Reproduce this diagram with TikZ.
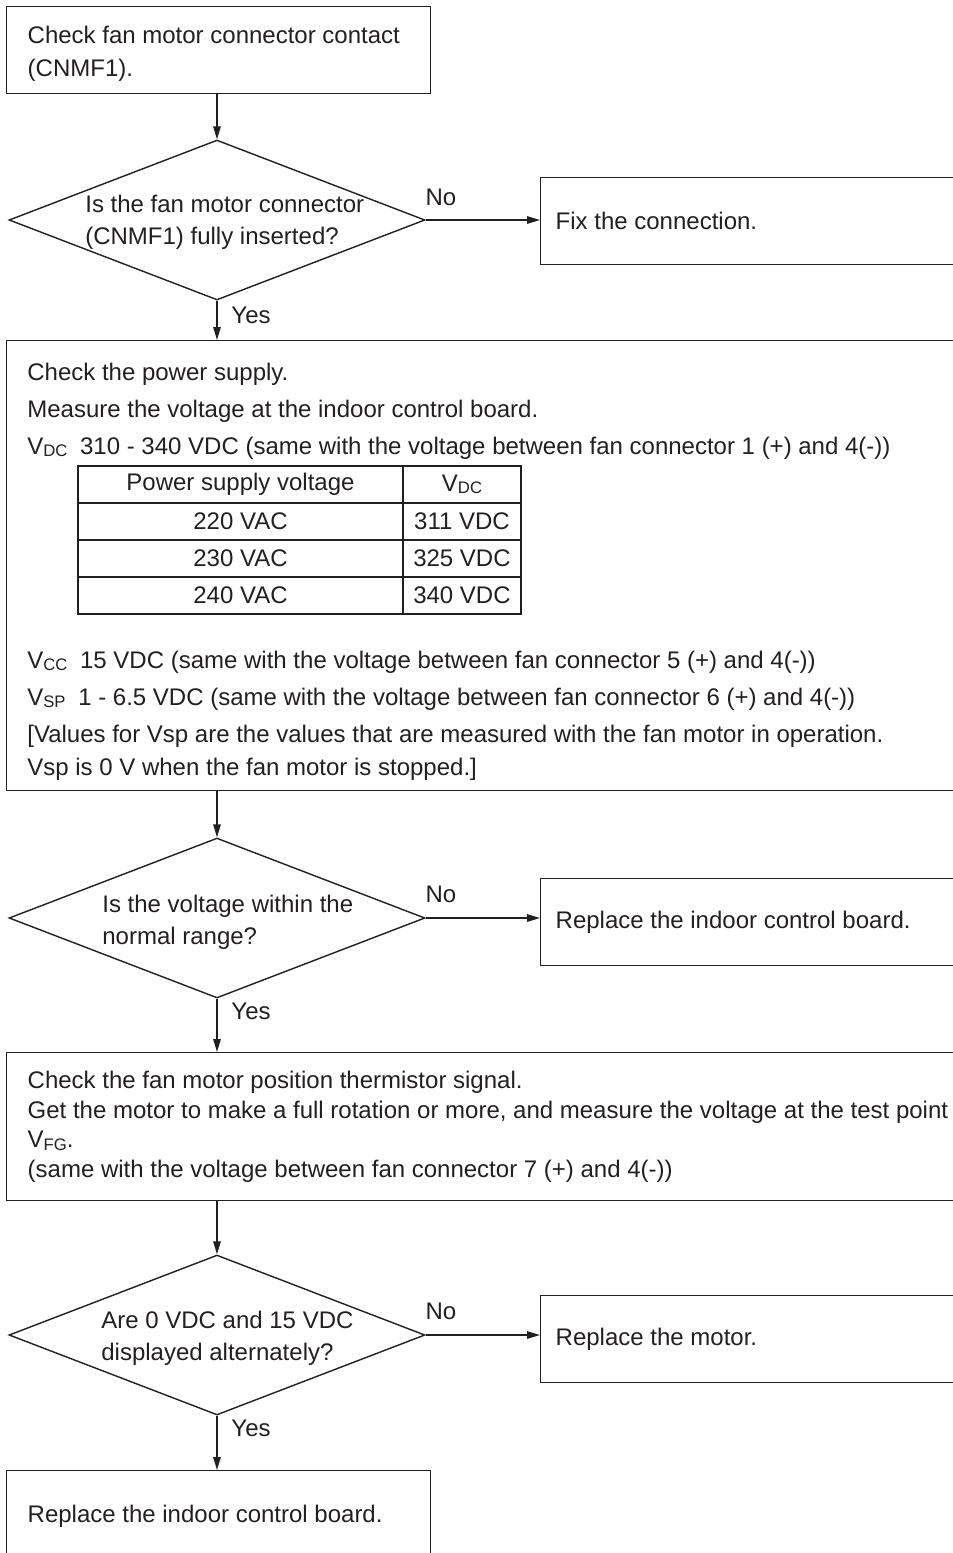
\documentclass[tikz,border=0pt]{standalone}
\usepackage{fontspec}
\setmainfont{Liberation Sans}
\usepackage{tikz}
\usetikzlibrary{positioning, arrows.meta, shapes.geometric}
\definecolor{InkGray}{RGB}{35,31,32}
\newcommand\vsub[1]{V\raisebox{-0.2ex}{\fontsize{9.5pt}{10pt}\selectfont #1}}
\tikzset{
  flowbox/.style={draw=InkGray, line width=0.8pt, text=InkGray, inner xsep=0.42cm, inner ysep=0pt,
    align=flush left, font=\fontsize{13.66pt}{18.8pt}\selectfont},
  sidebox/.style={flowbox, inner xsep=0.3cm, text width=8.2cm, minimum height=1.74cm},
  decision/.style={diamond, draw=InkGray, line width=0.8pt, minimum width=8.32cm, minimum height=3.2cm, inner sep=0pt},
  asktext/.style={anchor=west, inner sep=0pt, align=left, text=InkGray, font=\fontsize{13.66pt}{18.2pt}\selectfont},
  linetext/.style={anchor=base west, inner sep=0pt, text=InkGray, font=\fontsize{13.66pt}{16pt}\selectfont},
  answer/.style={inner sep=0pt, text=InkGray, font=\fontsize{13.66pt}{16pt}\selectfont},
  cell/.style={draw=InkGray, line width=0.8pt, minimum height=0.74cm, inner sep=0pt, text=InkGray,
    font=\fontsize{13.66pt}{16pt}\selectfont},
  flowarrow/.style={-{Triangle[length=0.26cm, width=0.15cm]}, line width=0.8pt, draw=InkGray},
}

\begin{document}
\begin{tikzpicture}[x=0.02cm, y=-0.02cm]
  \useasboundingbox (0,0) rectangle (953,1553);
  \clip (0,0) rectangle (953,1553);

  % first check
  \node[flowbox, anchor=north west, text width=7.64cm, minimum height=1.74cm] (chkconn) at (6,6)
    {\rule{0pt}{0.51cm}Check fan motor connector contact\\(CNMF1).};
  \node[decision] (askconn) at (217,220) {};
  \node[asktext] (askconntxt) at (85,222) {Is the fan motor connector\\(CNMF1) fully inserted?};
  \node[sidebox, anchor=north west] (fixconn) at (540,177) {Fix the connection.};
  \node[answer] (noconn) at (441,197) {No};
  \node[answer] (yesconn) at (251,315) {Yes};

  % power supply
  \node[flowbox, anchor=north west, minimum width=19.6cm, minimum height=9cm] (powerchk) at (6,340) {};
  \node[linetext] (pwa) at (27,380) {Check the power supply.};
  \node[linetext] (pwb) at (27,417) {Measure the voltage at the indoor control board.};
  \node[linetext] (pwc) at (27,454) {\vsub{DC}\hspace{0.25em} 310 - 340 VDC (same with the voltage between fan connector 1 (+) and 4(-))};
  \node[cell, minimum width=6.5cm] (volthead) at (240.5,484.5) {Power supply voltage};
  \node[cell, minimum width=2.36cm] (vdchead) at (462,484.5) {\vsub{DC}};
  \foreach \ac/\dc [count=\i] in {220/311, 230/325, 240/340}{
    \node[cell, minimum width=6.5cm] (volt\i) at (240.5,484.5+37*\i) {\ac\ VAC};
    \node[cell, minimum width=2.36cm] (vdc\i) at (462,484.5+37*\i) {\dc\ VDC};
  }
  \node[linetext] (pwd) at (27,668) {\vsub{CC}\hspace{0.25em} 15 VDC (same with the voltage between fan connector 5 (+) and 4(-))};
  \node[linetext] (pwe) at (27,705) {\vsub{SP}\hspace{0.25em} 1 - 6.5 VDC (same with the voltage between fan connector 6 (+) and 4(-))};
  \node[linetext] (pwf) at (27,742) {[Values for Vsp are the values that are measured with the fan motor in operation.};
  \node[linetext] (pwg) at (27,775) {Vsp is 0 V when the fan motor is stopped.]};

  \node[decision] (askvolt) at (217,918) {};
  \node[asktext] (askvolttxt) at (102,922) {Is the voltage within the\\normal range?};
  \node[sidebox, anchor=north west] (repboard) at (540,878) {Replace the indoor control board.};
  \node[answer] (novolt) at (441,894) {No};
  \node[answer] (yesvolt) at (251,1011) {Yes};

  % position signal
  \node[flowbox, anchor=north west, text width=19.5cm, minimum height=2.96cm,
    font=\fontsize{13.66pt}{16.8pt}\selectfont] (fgchk) at (6,1052)
    {Check the fan motor position thermistor signal.\\
     Get the motor to make a full rotation or more, and measure the voltage at the test point\\
     \vsub{FG}.\\
     (same with the voltage between fan connector 7 (+) and 4(-))};
  \node[decision] (askfg) at (217,1335) {};
  \node[asktext] (askfgtxt) at (101,1338) {Are 0 VDC and 15 VDC\\displayed alternately?};
  \node[sidebox, anchor=north west] (repmotor) at (540,1295) {Replace the motor.};
  \node[answer] (nofg) at (441,1311) {No};
  \node[answer] (yesfg) at (251,1428) {Yes};
  \node[flowbox, anchor=north west, text width=7.64cm, minimum height=1.84cm] (repboardb) at (6,1470)
    {Replace the indoor control board.};

  % connectors
  \draw[flowarrow] (askconn.north |- chkconn.south) -- (askconn.north);
  \draw[flowarrow] (askconn.east) -- (askconn.east -| fixconn.west);
  \draw[flowarrow] (askconn.south) -- (askconn.south |- powerchk.north);
  \draw[flowarrow] (askvolt.north |- powerchk.south) -- (askvolt.north);
  \draw[flowarrow] (askvolt.east) -- (askvolt.east -| repboard.west);
  \draw[flowarrow] (askvolt.south) -- (askvolt.south |- fgchk.north);
  \draw[flowarrow] (askfg.north |- fgchk.south) -- (askfg.north);
  \draw[flowarrow] (askfg.east) -- (askfg.east -| repmotor.west);
  \draw[flowarrow] (askfg.south) -- (askfg.south |- repboardb.north);
\end{tikzpicture}
\end{document}
